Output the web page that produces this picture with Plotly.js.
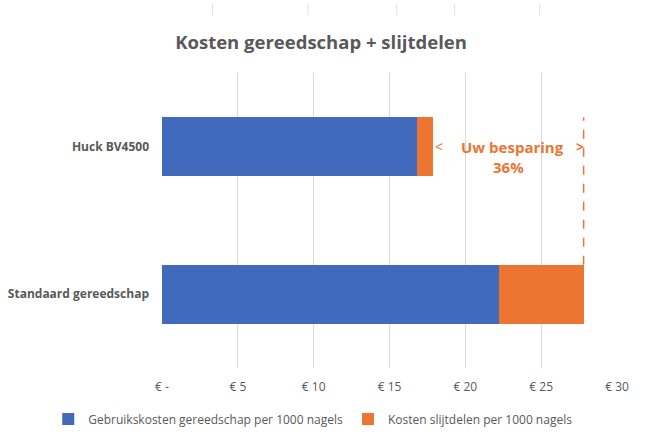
<!DOCTYPE html>
<html>
<head>
<meta charset="utf-8">
<script src="https://cdn.plot.ly/plotly-3.0.1.min.js"></script>
<style>html,body{margin:0;padding:0;background:#fff;}#chart{width:646px;height:442px;}</style>
</head>
<body>
<div id="chart"></div>
<script>
const categories = ["Standaard gereedschap", "Huck BV4500"];
const toolCosts = [22.2, 16.8];
const wearCosts = [5.6, 1.05];
const tickValues = [0, 5, 10, 15, 20, 25, 30];
const tickLabels = ["€ -", "€ 5", "€ 10", "€ 15", "€ 20", "€ 25", "€ 30"];
const seriesNames = ["Gebruikskosten gereedschap per 1000 nagels", "Kosten slijtdelen per 1000 nagels"];
const savingText = "Uw besparing";
const savingPct = "36%";

const blue = "#4169BC";
const orange = "#EC7532";
const gray = "#595959";
const font = "Open Sans, Noto Sans, sans-serif";

const stdTotal = toolCosts[0] + wearCosts[0];
const huckTotal = toolCosts[1] + wearCosts[1];
const midX = (huckTotal + stdTotal) / 2;

const data = [
  {type: "bar", orientation: "h", y: categories, x: toolCosts, name: seriesNames[0],
   marker: {color: blue, line: {width: 0}}, hoverinfo: "x"},
  {type: "bar", orientation: "h", y: categories, x: wearCosts, name: seriesNames[1],
   marker: {color: orange, line: {width: 0}}, hoverinfo: "x"}
];

const layout = {
  width: 646, height: 442,
  paper_bgcolor: "#fff", plot_bgcolor: "#fff",
  barmode: "stack", bargap: 0.6,
  margin: {l: 162, r: 29, t: 73, b: 74, autoexpand: false},
  font: {family: font, color: gray, size: 12},
  title: {text: "Kosten gereedschap + slijtdelen", x: 0.497, xanchor: "center", y: 0.903, yanchor: "middle",
          font: {family: font, size: 18.5, color: gray, weight: "bold"}},
  xaxis: {range: [0, 30], tickvals: tickValues, ticktext: tickLabels, showgrid: true,
          gridcolor: "#d9d9d9", gridwidth: 1, zeroline: false, showline: false, ticks: "",
          ticklabelstandoff: 10, tickfont: {size: 12, color: gray, family: font}, fixedrange: true},
  yaxis: {type: "category", categoryorder: "array", categoryarray: categories, range: [-0.5, 1.5],
          showgrid: false, zeroline: false, showline: false, ticks: "", ticklabelstandoff: 12,
          tickfont: {size: 12, color: gray, family: font, weight: "bold"}, fixedrange: true},
  legend: {orientation: "h", xref: "paper", yref: "paper", x: -0.25, xanchor: "left",
           y: -0.173, yanchor: "middle",
           font: {size: 12, color: gray, family: font}, traceorder: "normal",
           itemwidth: 30, tracegroupgap: 0},
  showlegend: true,
  shapes: [
    {type: "line", xref: "x", yref: "y", x0: stdTotal, x1: stdTotal, y0: 0.2, y1: 1.2,
     line: {color: orange, width: 1.5, dash: "dash"}},
    ...[0.111, 0.321, 0.516, 0.643, 0.83].map(px => ({type: "line", xref: "paper", yref: "paper",
      x0: px, x1: px, y0: 1.233, y1: 1.196, line: {color: "#e0e0e0", width: 1}}))
  ],
  annotations: [
    {xref: "x", yref: "y", x: midX + 0.3, y: 1.0, text: "<b>" + savingText + "</b>", showarrow: false,
     font: {size: 15, color: orange, family: font}, xanchor: "center", yanchor: "middle"},
    {xref: "x", yref: "y", x: midX, y: 0.86, text: "<b>" + savingPct + "</b>", showarrow: false,
     font: {size: 15, color: orange, family: font}, xanchor: "center", yanchor: "middle"},
    {xref: "x", yref: "y", x: huckTotal + 0.05, y: 1.0, text: "<", showarrow: false,
     font: {size: 14, color: orange, family: font}, xanchor: "left", yanchor: "middle"},
    {xref: "x", yref: "y", x: stdTotal + 0.15, y: 1.0, text: "<b>></b>", showarrow: false,
     font: {size: 14, color: orange, family: font}, xanchor: "right", yanchor: "middle"}
  ]
};

Plotly.newPlot("chart", data, layout, {displayModeBar: false, staticPlot: true});
</script>
</body>
</html>
